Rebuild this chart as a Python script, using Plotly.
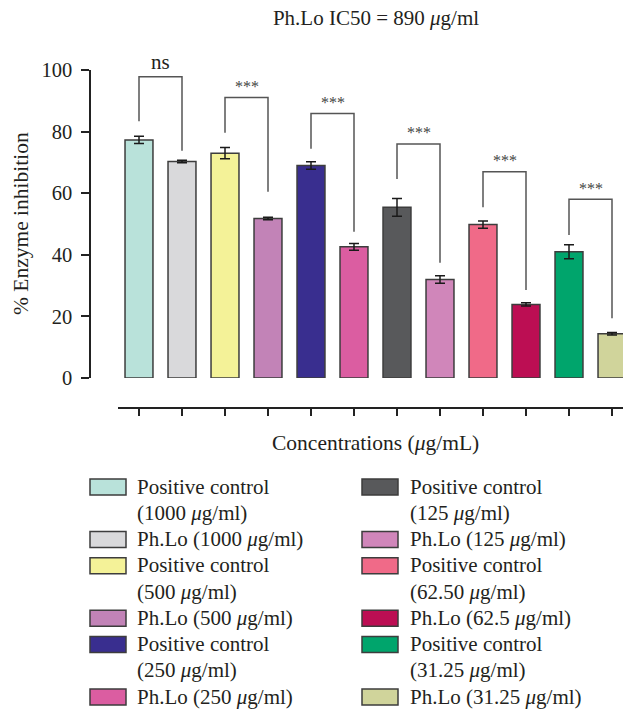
import plotly.graph_objects as go

# Figure laid out directly in reference-pixel coordinates; the page's default
# body margin is removed after plotting so the figure sits at (0, 0).
W, H = 623, 711

# ---------------- data ----------------
labels = [
    "Positive control<br>(1000 <i>μ</i>g/ml)",
    "Ph.Lo (1000 <i>μ</i>g/ml)",
    "Positive control<br>(500 <i>μ</i>g/ml)",
    "Ph.Lo (500 <i>μ</i>g/ml)",
    "Positive control<br>(250 <i>μ</i>g/ml)",
    "Ph.Lo (250 <i>μ</i>g/ml)",
    "Positive control<br>(125 <i>μ</i>g/ml)",
    "Ph.Lo (125 <i>μ</i>g/ml)",
    "Positive control<br>(62.50 <i>μ</i>g/ml)",
    "Ph.Lo (62.5 <i>μ</i>g/ml)",
    "Positive control<br>(31.25 <i>μ</i>g/ml)",
    "Ph.Lo (31.25 <i>μ</i>g/ml)",
]
values = [77.3, 70.3, 73.0, 51.8, 69.0, 42.6, 55.4, 32.0, 49.8, 23.9, 41.0, 14.4]
errors = [1.2, 0.4, 1.8, 0.4, 1.2, 1.1, 2.9, 1.2, 1.2, 0.5, 2.3, 0.4]
colors = ["#B9E2DA", "#D9D9DB", "#F4F298", "#C283B7", "#392E8F", "#DB5DA1",
          "#58595B", "#D086BA", "#F06A88", "#BC0E53", "#00A56C", "#D0D49B"]

sig_labels = ["ns", "***", "***", "***", "***", "***"]
bracket_top = [97.8, 91.1, 85.9, 76.0, 67.0, 58.0]
bracket_left_end = [83.4, 79.6, 74.4, 64.6, 55.4, 46.4]
bracket_right_end = [73.8, 60.5, 47.5, 37.4, 28.6, 19.4]

y_ticks = [0, 20, 40, 60, 80, 100]

FONT = "Liberation Serif"
TXT = "#231f20"
EDGE = "#3d3d3d"


def fx(px):
    return px / W


def fy(py):
    return 1 - py / H


fig = go.Figure()
for i, (v, e, c) in enumerate(zip(values, errors, colors)):
    fig.add_trace(go.Bar(
        x=[i], y=[v], width=0.65,
        marker=dict(color=c, line=dict(color=EDGE, width=1.5)),
        error_y=dict(type="data", array=[e], visible=True, color="#1a1a1a",
                     thickness=1.5, width=5),
        showlegend=False, hoverinfo="skip",
    ))

shapes = []
annotations = []

# significance brackets
for k, lab in enumerate(sig_labels):
    xl, xr = 2 * k, 2 * k + 1
    path = (f"M {xl},{bracket_left_end[k]} L {xl},{bracket_top[k]} "
            f"L {xr},{bracket_top[k]} L {xr},{bracket_right_end[k]}")
    shapes.append(dict(type="path", xref="x", yref="y", path=path,
                       line=dict(color="#555555", width=1.5)))
    if lab == "ns":
        annotations.append(dict(x=(xl + xr) / 2, y=bracket_top[k], xref="x", yref="y",
                                text=lab, showarrow=False, yanchor="middle", yshift=15,
                                font=dict(family=FONT, size=21, color=TXT)))
    else:
        annotations.append(dict(x=(xl + xr) / 2, y=bracket_top[k], xref="x", yref="y",
                                text=lab, showarrow=False, yanchor="middle", yshift=11,
                                font=dict(family=FONT, size=16, color="#444444")))

# manual legend (two columns), one annotation per text line
LINE = 26.25
cols = [dict(box=90, text=136), dict(box=362, text=409)]
for c in range(2):
    yc = 487.0
    for j in range(6):
        idx = c * 6 + j
        lines = labels[idx].split("<br>")
        shapes.append(dict(type="rect", xref="paper", yref="paper",
                           x0=fx(cols[c]["box"]), x1=fx(cols[c]["box"] + 36),
                           y0=fy(yc - 8), y1=fy(yc + 8),
                           fillcolor=colors[idx], line=dict(color=EDGE, width=1.5)))
        for n, ln in enumerate(lines):
            annotations.append(dict(x=fx(cols[c]["text"]), y=fy(yc + n * LINE - 0.5),
                                    xref="paper", yref="paper", xanchor="left",
                                    yanchor="middle", align="left", text=ln,
                                    showarrow=False, borderpad=0,
                                    font=dict(family=FONT, size=21, color=TXT)))
        yc += len(lines) * LINE

# axis titles
annotations.append(dict(x=fx(376), y=fy(443), xref="paper", yref="paper",
                        text="Concentrations (<i>μ</i>g/mL)", showarrow=False,
                        xanchor="center", yanchor="middle",
                        font=dict(family=FONT, size=21.5, color=TXT)))
annotations.append(dict(x=fx(21), y=fy(224), xref="paper", yref="paper",
                        text="% Enzyme inhibition", showarrow=False, textangle=-90,
                        xanchor="center", yanchor="middle",
                        font=dict(family=FONT, size=21.5, color=TXT)))

x0_px, x_end_px, step_px, first_center = 118, 623, 43, 139
xr0 = -(first_center - x0_px) / step_px
xr1 = (x_end_px - first_center) / step_px

fig.update_layout(
    width=W, height=H,
    margin=dict(l=0, r=0, t=0, b=0),
    paper_bgcolor="white", plot_bgcolor="white",
    barmode="overlay",
    title=dict(text="Ph.Lo IC50 = 890 <i>μ</i>g/ml", x=fx(376), xanchor="center",
               y=fy(18), yanchor="middle",
               font=dict(family=FONT, size=21, color=TXT)),
    xaxis=dict(domain=[fx(x0_px), 1], range=[xr0, xr1], anchor="free", position=fy(408),
               showline=True, linecolor="#222222", linewidth=1.5,
               ticks="outside", ticklen=7, tickwidth=1.5, tickcolor="#222222",
               tickvals=list(range(len(values))), showticklabels=False,
               showgrid=False, zeroline=False, automargin=False),
    yaxis=dict(domain=[fy(378), fy(70)], range=[0, 100], anchor="free", position=fx(90),
               showline=True, linecolor="#222222", linewidth=1.5,
               ticks="outside", ticklen=8, tickwidth=1.5, tickcolor="#222222",
               tickvals=y_ticks, ticklabelstandoff=5,
               tickfont=dict(family=FONT, size=20.5, color=TXT),
               showgrid=False, zeroline=False, automargin=False),
    shapes=shapes,
    annotations=annotations,
    showlegend=False,
)

fig.write_html(
    "out.html",
    config={"displayModeBar": False},
    post_script="document.body.style.margin='0';document.body.style.overflow='hidden';",
)
